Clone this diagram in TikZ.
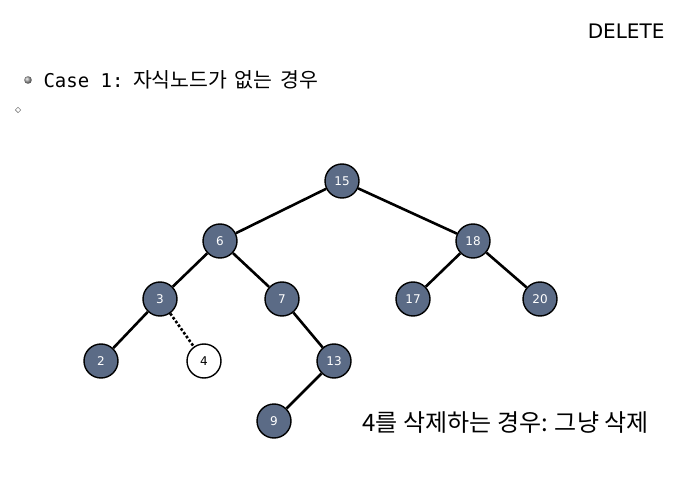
\documentclass[tikz,border=0pt]{standalone}
\usepackage{fontspec}
\usetikzlibrary{shapes.geometric}
\setmainfont{DejaVu Sans}
\newfontfamily\kr{Noto Sans CJK KR}
\newfontfamily\mono{DejaVu Sans Mono}
\definecolor{nodefill}{HTML}{5B6B86}
\begin{document}
\begin{tikzpicture}[x=1pt,y=-1pt,
  bst/.style={circle,draw=black,line width=1.4pt,fill=nodefill,minimum size=34pt,inner sep=0pt,text=white,font=\fontsize{12}{14}\selectfont},
  bstw/.style={bst,fill=white,text=black},
  edge/.style={line width=2.6pt,black}]
\useasboundingbox (0,0) rectangle (680,489);
\node[anchor=east,font=\fontsize{20}{24}\selectfont] (title) at (668,31) {DELETE};
\shade[ball color=gray!70] (28,80) circle (3.8pt);
\node[anchor=west,font=\fontsize{19}{23}\selectfont] (case) at (40,80) {\mono Case 1:\hspace{0.5em}{\kr\fontsize{20.5}{23}\selectfont 자식노드가\hspace{0.35em}없는\hspace{0.4em}경우}};
\node[draw=gray,line width=0.6pt,diamond,inner sep=1.4pt] (dia) at (18,110) {};
\node[bst] (n15) at (342,181) {15};
\node[bst] (n6) at (220,241) {6};
\node[bst] (n18) at (473,241) {18};
\node[bst] (n3) at (160,299) {3};
\node[bst] (n7) at (282,299) {7};
\node[bst] (n17) at (413,299) {17};
\node[bst] (n20) at (540,299) {20};
\node[bst] (n2) at (101,361) {2};
\node[bstw] (n4) at (204,361) {4};
\node[bst] (n13) at (334,361) {13};
\node[bst] (n9) at (274,421) {9};
\draw[edge] (n15) -- (n6);
\draw[edge] (n15) -- (n18);
\draw[edge] (n6) -- (n3);
\draw[edge] (n6) -- (n7);
\draw[edge] (n18) -- (n17);
\draw[edge] (n18) -- (n20);
\draw[edge] (n3) -- (n2);
\draw[edge,dotted] (n3) -- (n4);
\draw[edge] (n7) -- (n13);
\draw[edge] (n13) -- (n9);
\node[anchor=west,font=\fontsize{24}{28}\selectfont\kr] (cap) at (359,423) {4를 삭제하는 경우: 그냥 삭제};
\end{tikzpicture}
\end{document}
